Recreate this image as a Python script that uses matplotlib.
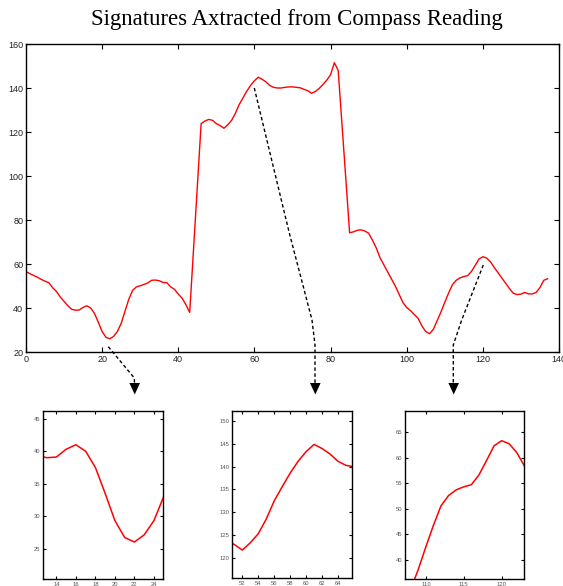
import numpy as np
import matplotlib.pyplot as plt

# Lecturas de la brújula (una muestra por unidad)
muestras = np.arange(0, 138)
lectura = [56.5, 55.6, 54.8, 54.0, 53.0, 52.2, 51.5, 49.2, 47.5, 45.0,
           43.0, 41.0, 39.4, 39.0, 39.1, 40.3, 41.0, 40.0, 37.5, 33.5,
           29.3, 26.7, 26.0, 27.1, 29.3, 33.0, 38.5, 44.0, 48.0, 49.6,
           50.1, 50.7, 51.4, 52.6, 52.7, 52.4, 51.6, 51.5, 49.6, 48.5,
           46.3, 44.5, 41.5, 38.0, 66.5, 95.0, 123.8, 125.0, 125.7, 125.3,
           123.8, 122.9, 121.7, 123.3, 125.3, 128.5, 132.5, 135.6, 138.6, 141.2,
           143.3, 144.9, 144.0, 142.8, 141.2, 140.3, 140.0, 140.0, 140.3, 140.5,
           140.5, 140.3, 140.1, 139.4, 138.8, 137.6, 138.4, 139.8, 141.6, 143.6,
           146.0, 151.5, 148.0, 123.5, 99.0, 74.2, 74.6, 75.3, 75.5, 75.0,
           74.0, 70.8, 67.3, 62.8, 59.6, 56.4, 53.2, 50.0, 46.3, 42.5,
           40.2, 38.8, 37.0, 35.3, 31.8, 29.3, 28.3, 30.3, 34.3, 38.2,
           42.6, 46.8, 50.6, 52.6, 53.7, 54.3, 54.7, 56.6, 59.4, 62.3,
           63.3, 62.7, 61.0, 58.4, 56.0, 53.6, 51.2, 48.8, 46.7, 46.1,
           46.3, 47.1, 46.4, 46.4, 47.1, 49.3, 52.6, 53.3]

# Ventanas de ampliación (x0, x1, y0, y1) y sus ticks
zoom_lims = [(12.6, 24.9, 20.3, 46.2), (50.7, 65.8, 115.5, 152.3), (107.2, 123.0, 36.3, 69.1)]
zoom_xticks = [[14, 16, 18, 20, 22, 24], [52, 54, 56, 58, 60, 62, 64], [110, 115, 120]]
zoom_yticks = [[25, 30, 35, 40, 45], [120, 125, 130, 135, 140, 145, 150], [40, 45, 50, 55, 60, 65]]

W, H = 563, 586
fig = plt.figure(figsize=(W / 100, H / 100), dpi=100)

def px_axes(l, r, t, b):
    return fig.add_axes([l / W, 1 - b / H, (r - l) / W, (b - t) / H])

def estilo(ax, fs, col):
    ax.tick_params(direction='in', top=True, right=True, length=3.5, width=0.8,
                   labelsize=fs, labelcolor=col, pad=2)
    for s in ax.spines.values():
        s.set_linewidth(1.0)

plt.rcParams['font.family'] = 'Liberation Sans'

# Gráfico principal
ax = px_axes(26, 559, 44, 352)
ax.plot(muestras, lectura, color='red', lw=1.0)
ax.set_xlim(0, 140)
ax.set_ylim(20, 160)
ax.set_xticks(np.arange(0, 141, 20))
ax.set_yticks(np.arange(20, 161, 20))
estilo(ax, 6.5, '#222222')
fig.text(297 / W, 1 - 20 / H, 'Signatures Axtracted from Compass Reading',
         family='Liberation Serif', fontsize=16.4, ha='center', va='center')

# Ampliaciones
cajas = [(42.7, 162.7, 411, 579), (232, 352.3, 410.7, 578.3), (404.7, 524.3, 411, 579)]
for caja, lim, xt, yt in zip(cajas, zoom_lims, zoom_xticks, zoom_yticks):
    a = px_axes(*caja)
    a.plot(muestras, lectura, color='red', lw=1.1)
    a.set_xlim(lim[0], lim[1])
    a.set_ylim(lim[2], lim[3])
    a.set_xticks(xt)
    a.set_yticks(yt)
    estilo(a, 4.2, '#555555')
    a.tick_params(length=2.5)

# Flechas discontinuas (coordenadas en píxeles de la figura)
ov = fig.add_axes([0, 0, 1, 1], zorder=10)
ov.set_xlim(0, W)
ov.set_ylim(H, 0)
ov.axis('off')
ov.patch.set_alpha(0)
flechas = [
    [(108.3, 346.7), (134.3, 378), (134.5, 383)],
    [(254.3, 88), (289.3, 233), (312, 320), (315, 345), (315, 383)],
    [(483.3, 265), (461.7, 320), (453.3, 345), (453.3, 383)],
]
puntas = [134.7, 315.3, 453.7]
for camino, xp in zip(flechas, puntas):
    xs, ys = zip(*camino)
    ov.plot(xs, ys, color='black', lw=1.0, ls=(0, (2.5, 1.8)))
    ov.fill([xp - 5.3, xp + 5.3, xp], [383, 383, 394.5], color='black', lw=0)

fig.savefig('out.png', dpi=100)
